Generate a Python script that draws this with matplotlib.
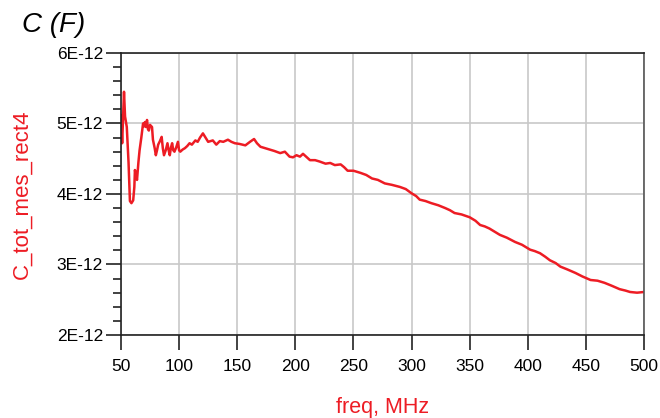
import matplotlib
matplotlib.use("Agg")
import matplotlib.pyplot as plt
from matplotlib.ticker import MultipleLocator, FuncFormatter

plt.rcParams['font.family'] = ['Liberation Sans', 'DejaVu Sans']

freq = [50, 51, 52.6, 53.5, 55, 56.5, 57.7, 59, 60.5, 61.5, 62, 63, 63.8, 65, 66, 67.5,
        69, 70, 70.6, 71.5, 72.4, 73.2, 74, 75, 76.7, 77.5, 79, 80, 81, 82, 83.5, 85,
        86, 87, 88.5, 90, 91, 92, 93, 94, 95, 96, 97.5, 99, 100, 101, 103, 105, 107,
        109, 111, 114, 116, 118, 120.5, 122, 125, 127, 129, 131, 132, 135, 138, 142,
        145, 148, 152, 157, 161, 164.5, 167, 170, 174, 178, 182, 187, 191, 195, 198,
        201, 204, 206.6, 210, 212.6, 217, 221, 226, 230, 234, 239, 242, 245, 250, 256,
        261, 266, 271, 277, 283, 290, 295, 300, 304, 307, 312, 317, 323, 329, 333, 337,
        343, 350, 355, 359, 363, 367, 371, 376, 382, 389, 395, 402, 406, 410.5, 415,
        419, 424, 428, 434, 441, 447, 454, 460, 466, 472, 479, 484, 488, 494, 500]
cap = [5.12, 4.72, 5.45, 5.1, 4.95, 4.45, 3.9, 3.87, 3.91, 4.1, 4.34, 4.25, 4.2, 4.45,
       4.62, 4.8, 5.0, 4.96, 5.02, 4.95, 5.05, 4.92, 4.9, 4.98, 4.95, 4.77, 4.65, 4.55,
       4.62, 4.7, 4.75, 4.81, 4.65, 4.55, 4.62, 4.72, 4.62, 4.55, 4.66, 4.72, 4.62,
       4.6, 4.66, 4.74, 4.62, 4.6, 4.63, 4.65, 4.68, 4.72, 4.7, 4.76, 4.74, 4.8, 4.86,
       4.82, 4.74, 4.75, 4.76, 4.72, 4.7, 4.75, 4.74, 4.77, 4.74, 4.72, 4.71, 4.69,
       4.74, 4.78, 4.72, 4.67, 4.65, 4.63, 4.61, 4.58, 4.6, 4.53, 4.52, 4.55, 4.53,
       4.57, 4.52, 4.48, 4.48, 4.46, 4.43, 4.44, 4.41, 4.42, 4.38, 4.33, 4.33, 4.3,
       4.27, 4.22, 4.2, 4.15, 4.13, 4.1, 4.07, 4.01, 3.97, 3.92, 3.9, 3.87, 3.84,
       3.8, 3.77, 3.73, 3.71, 3.67, 3.62, 3.56, 3.54, 3.51, 3.47, 3.42, 3.38, 3.32,
       3.28, 3.21, 3.19, 3.16, 3.11, 3.06, 3.02, 2.97, 2.93, 2.88, 2.83, 2.78, 2.77,
       2.74, 2.7, 2.65, 2.63, 2.61, 2.6, 2.61]

xticks = [50, 100, 150, 200, 250, 300, 350, 400, 450, 500]
yticks = [2, 3, 4, 5, 6]
red = '#ed1c24'

fig = plt.figure(figsize=(6.6, 4.18), dpi=100)
ax = fig.add_axes([0.1833, 0.1986, 0.7925, 0.6746])

ax.plot(freq, cap, color=red, lw=1.8)

ax.set_xlim(50, 500)
ax.set_ylim(2, 6)
ax.set_xticks(xticks)
ax.set_yticks(yticks)
ax.yaxis.set_minor_locator(MultipleLocator(0.2))
ax.yaxis.set_major_formatter(FuncFormatter(lambda v, p: '%dE-12' % round(v)))

ax.grid(True, which='major', color='#c8c8c8', lw=1.2)
ax.set_axisbelow(True)

ax.tick_params(axis='both', which='major', direction='out', length=11, width=1.2,
               labelsize=12.5, color='#222222', pad=2)
ax.tick_params(axis='y', which='minor', direction='out', length=6, width=1.2,
               color='#222222')
ax.tick_params(axis='x', pad=6)

for s in ['left', 'bottom', 'top']:
    ax.spines[s].set_color('#222222')
    ax.spines[s].set_linewidth(1.2)
ax.spines['right'].set_color('#555555')
ax.spines['right'].set_linewidth(1.2)

ax.set_xlabel('freq, MHz', color=red, fontsize=15.5, labelpad=17)
ax.set_ylabel('C_tot_mes_rect4', color=red, fontsize=16, labelpad=17)

fig.text(0.033, 0.94, 'C (F)', fontsize=20, style='italic', va='center', ha='left')

fig.savefig('out.png', dpi=100)
